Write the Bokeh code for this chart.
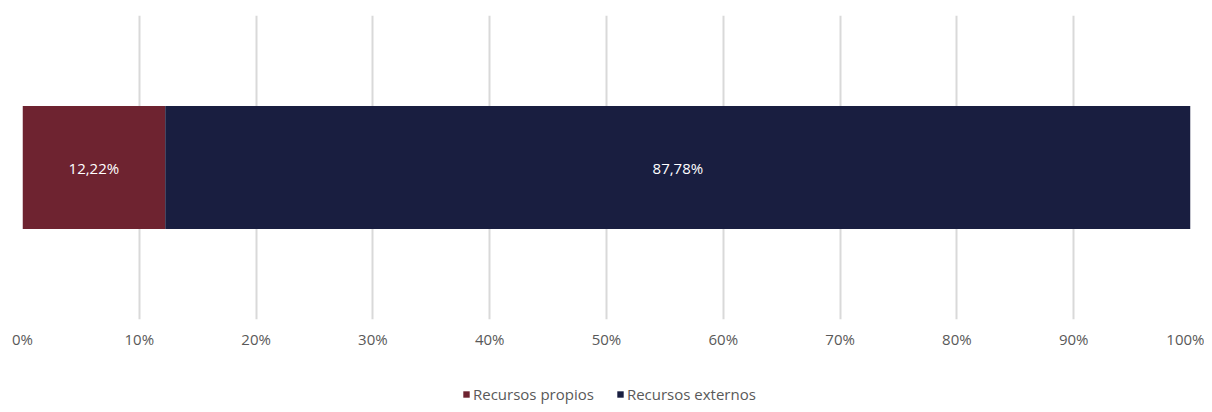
from bokeh.plotting import figure
from bokeh.layouts import column
from bokeh.models import ColumnDataSource, Legend, LegendItem, FixedTicker, Range1d
from bokeh.core.properties import value
from bokeh.embed import file_html
from bokeh.resources import INLINE

series = ["Recursos propios", "Recursos externos"]
shares = [12.22, 87.78]
colors = ["#6E2330", "#191E40"]
labels = ["12,22%", "87,78%"]
ticks = [0, 10, 20, 30, 40, 50, 60, 70, 80, 90, 100]

starts, ends, mids = [], [], []
acc = 0.0
for s in shares:
    starts.append(acc)
    ends.append(acc + s)
    mids.append(acc + s / 2)
    acc += s

src = ColumnDataSource(dict(left=starts, right=ends, mid=mids, color=colors,
                            label=labels, name=series, y=[0.5] * len(series)))

p = figure(frame_width=1168, frame_height=304, output_backend="svg", toolbar_location=None,
           x_range=Range1d(0, 100), y_range=Range1d(0, 1),
           min_border_left=22, min_border_right=14, min_border_top=15,
           min_border_bottom=31)
p.outline_line_color = None
p.background_fill_color = "white"

for i in range(len(series)):
    p.hbar(y=0.5, left=starts[i], right=ends[i], height=0.405,
           fill_color=colors[i], line_color=None)

p.text(x="mid", y="y", text="label", source=src, text_color="white",
       text_align="center", text_baseline="middle",
       text_font=value("Open Sans"), text_font_size="15px")

p.yaxis.visible = False
p.ygrid.visible = False
p.xgrid.grid_line_color = "#D9D9D9"
p.xgrid.grid_line_width = 2
p.xaxis.ticker = FixedTicker(ticks=ticks)
p.xaxis.major_label_overrides = {t: f"{t}%" for t in ticks}
p.xaxis.axis_line_color = None
p.xaxis.major_tick_line_color = None
p.xaxis.minor_tick_line_color = None
p.xaxis.major_tick_out = 0
p.xaxis.major_tick_in = 0
p.xaxis.major_label_standoff = 9
p.xaxis.major_label_text_font = "Open Sans"
p.xaxis.major_label_text_font_size = "15px"
p.xaxis.major_label_text_color = "#595959"

# legend strip (swatches are drawn off-range so only the legend shows them)
lg = figure(width=1204, height=54, output_backend="svg", toolbar_location=None,
            x_range=Range1d(0, 1), y_range=Range1d(0, 1),
            min_border=0, min_border_left=0, min_border_right=0,
            min_border_top=0, min_border_bottom=0)
lg.outline_line_color = None
lg.axis.visible = False
lg.grid.visible = False
rs = []
for i in range(len(series)):
    rs.append(lg.quad(left=[5], right=[6], top=[6], bottom=[5],
                      fill_color=colors[i], line_color=None))

legend = Legend(items=[LegendItem(label=series[i], renderers=[rs[i]]) for i in range(len(series))],
                orientation="horizontal", location=(440, 1),
                label_text_font="Open Sans", label_text_font_size="15px",
                label_text_color="#595959", glyph_width=8, glyph_height=8,
                label_standoff=3, spacing=22, border_line_color=None,
                background_fill_alpha=0, padding=0, margin=0,
                label_height=12)
lg.add_layout(legend)

layout = column(p, lg, spacing=0)
open("out.html", "w").write(file_html(layout, INLINE))
